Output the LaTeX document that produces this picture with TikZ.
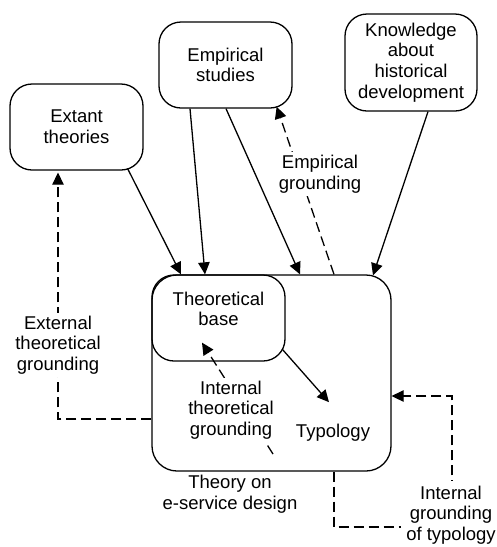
\documentclass[tikz,border=0pt]{standalone}
\usepackage{fontspec}
\setmainfont{Liberation Sans}
\usetikzlibrary{arrows.meta,calc}
\begin{document}
\begin{tikzpicture}[x=1pt,y=-1pt,
  font=\fontsize{18.5}{20.7}\selectfont,
  box/.style={draw,line width=1.3pt,rounded corners=22pt,align=center,inner sep=0pt},
  lbl/.style={align=center,fill=white,inner sep=3pt},
  arr/.style={line width=1.3pt,-{Triangle[length=12pt,width=11.5pt]}},
  darr/.style={arr,dash pattern=on 10pt off 5pt},
]
\useasboundingbox (0,0) rectangle (497,547);
% boxes
\node[box,minimum width=133pt,minimum height=86pt] (ext) at (76.5,127) {Extant\\theories};
\node[box,minimum width=133pt,minimum height=86pt] (emp) at (225.5,65) {Empirical\\studies};
\node[box,minimum width=132pt,minimum height=97pt] (know) at (411,62.5) {Knowledge\\about\\historical\\development};
\node[box,rounded corners=25pt,minimum width=239pt,minimum height=196pt] (theory) at (271.5,373) {};
\node[box,minimum width=133pt,minimum height=86pt] (base) at (218.5,318) {};
\node[align=center,inner sep=0pt] (basetxt) at (218.5,309) {Theoretical\\base};
\node[inner sep=0pt] (typ) at (333,433) {Typology};
% solid arrows
\draw[arr] ($(ext.south east)+(-16,-2)$) -- ($(theory.north)+(-90.5,0)$);
\draw[arr] ($(emp.south)+(-35.5,0)$) -- ($(theory.north)+(-66.5,0)$);
\draw[arr] ($(emp.south)+(0.5,0)$) -- ($(theory.north)+(28.5,0)$);
\draw[arr] ($(know.south)+(17,0)$) -- ($(theory.north)+(101.5,1)$);
\draw[arr] ($(base.south east)+(-3,-12)$) -- ($(typ.north)+(-4,-22)$);
% dashed arrows
\coordinate (itgstart) at (273,454);
\draw[darr] ($(theory.north)+(62.5,0)$) -- ($(emp.south east)+(-16,-2)$);
\draw[darr] (itgstart) -- ($(base.south)+(-16.5,-19)$);
\draw[darr] ($(theory.west)+(0,46)$) -- (58,419) -- ($(ext.south)+(-18.5,2)$);
\draw[darr] ($(theory.south)+(62.5,0)$) -- (334,527) -- (452,527) -- (452,396) -- ($(theory.east)+(0,23)$);
% labels
\node[lbl] (lemp) at (320,174) {Empirical\\grounding};
\node[lbl] (lext) at (58,345) {External\\theoretical\\grounding};
\node[lbl] (lint) at (231,410) {Internal\\theoretical\\grounding};
\node[lbl,fill=none] (lth) at (230,494.5) {Theory on\\e-service design};
\node[lbl,inner sep=5pt] (ltyp) at (451,515) {Internal\\grounding\\of typology};
\end{tikzpicture}
\end{document}
